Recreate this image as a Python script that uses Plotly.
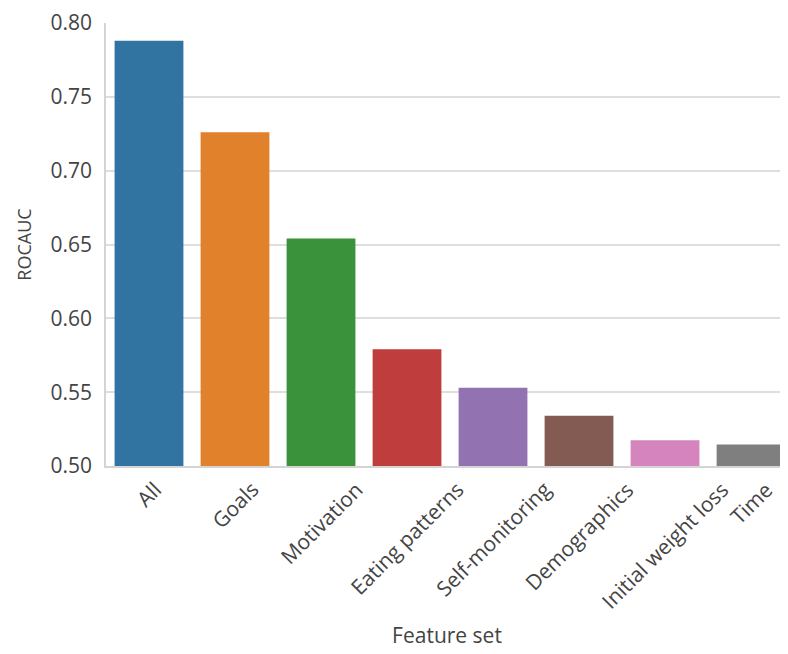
import plotly.graph_objects as go

categories = ["All", "Goals", "Motivation", "Eating patterns", "Self-monitoring",
              "Demographics", "Initial weight loss", "Time"]
rocauc = [0.788, 0.726, 0.654, 0.579, 0.553, 0.534, 0.5175, 0.5145]
colors = ["#3274a1", "#e1812c", "#3a923a", "#c03d3e", "#9372b2",
          "#845b53", "#d684bd", "#7f7f7f"]
yticks = [0.50, 0.55, 0.60, 0.65, 0.70, 0.75, 0.80]

FONT = "Open Sans"
TXT = "#444444"

fig = go.Figure(go.Bar(
    x=categories, y=rocauc, marker_color=colors, width=0.8,
    marker_line_width=0, showlegend=False,
))

annotations = []
for c in categories:
    annotations.append(dict(
        x=c, xref="x", y=-0.016, yref="paper", text=c, showarrow=False,
        textangle=-45, xanchor="center", yanchor="top",
        font=dict(family=FONT, size=21, color=TXT),
    ))

fig.update_layout(
    width=788, height=654,
    margin=dict(l=98, r=8, t=15, b=196),
    plot_bgcolor="white", paper_bgcolor="white",
    font=dict(family=FONT, color=TXT),
    bargap=0.2,
    annotations=annotations,
    xaxis=dict(
        range=[-0.5, 7.43], showticklabels=False, showgrid=False, automargin=False,
        showline=True, linecolor="#d4d4d4", linewidth=1.5, ticks="",
        title=dict(text="Feature set", font=dict(family=FONT, size=21, color=TXT), standoff=162),
    ),
    yaxis=dict(
        range=[0.5, 0.8], tickvals=yticks, tickformat=".2f", automargin=False,
        showgrid=True, gridcolor="#dedede", gridwidth=1.5,
        showline=True, linecolor="#d4d4d4", linewidth=1.5, ticks="",
        ticklabelstandoff=8, ticklabeloverflow="allow", zeroline=False,
        tickfont=dict(family=FONT, size=21, color=TXT),
        title=dict(text="ROCAUC", font=dict(family=FONT, size=18, color=TXT), standoff=14),
    ),
)

fig.write_html("out.html")
